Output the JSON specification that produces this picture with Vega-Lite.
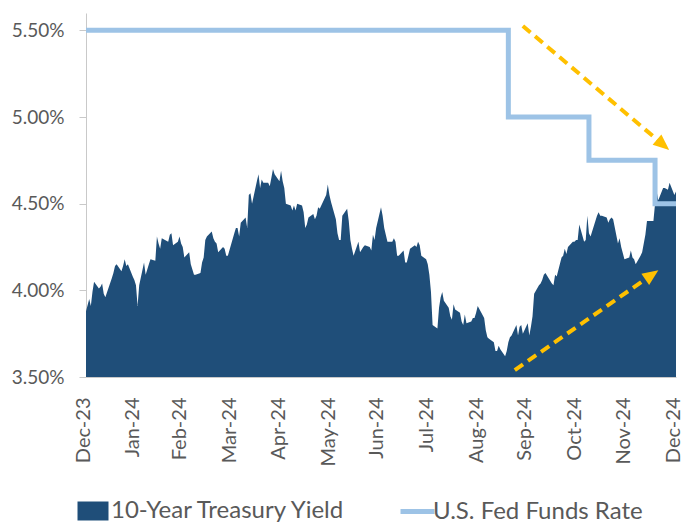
{
  "$schema": "https://vega.github.io/schema/vega-lite/v6.json",
  "width": 590,
  "height": 364,
  "autosize": "none",
  "padding": {"left": 86, "top": 13, "right": 7, "bottom": 150},
  "background": "white",
  "config": {
    "view": {"stroke": null},
    "font": "Lato",
    "axis": {"grid": false, "labelFont": "Lato", "labelColor": "#595959", "domainColor": "#C9C9C9", "tickColor": "#C9C9C9"}
  },
  "datasets": {
    "treasury": [
      {"date": "2023-12-31", "yield": 3.88},
      {"date": "2024-01-02", "yield": 3.95}, {"date": "2024-01-03", "yield": 3.91}, {"date": "2024-01-04", "yield": 3.99}, {"date": "2024-01-05", "yield": 4.05},
      {"date": "2024-01-08", "yield": 4.01}, {"date": "2024-01-09", "yield": 4.02}, {"date": "2024-01-10", "yield": 4.04}, {"date": "2024-01-11", "yield": 3.98}, {"date": "2024-01-12", "yield": 3.96},
      {"date": "2024-01-16", "yield": 4.07}, {"date": "2024-01-17", "yield": 4.10}, {"date": "2024-01-18", "yield": 4.14}, {"date": "2024-01-19", "yield": 4.15},
      {"date": "2024-01-22", "yield": 4.11}, {"date": "2024-01-23", "yield": 4.14}, {"date": "2024-01-24", "yield": 4.18}, {"date": "2024-01-25", "yield": 4.14}, {"date": "2024-01-26", "yield": 4.15},
      {"date": "2024-01-29", "yield": 4.08}, {"date": "2024-01-30", "yield": 4.06}, {"date": "2024-01-31", "yield": 4.03}, {"date": "2024-02-01", "yield": 3.91}, {"date": "2024-02-02", "yield": 4.03},
      {"date": "2024-02-05", "yield": 4.16}, {"date": "2024-02-06", "yield": 4.09}, {"date": "2024-02-07", "yield": 4.12}, {"date": "2024-02-08", "yield": 4.15}, {"date": "2024-02-09", "yield": 4.18},
      {"date": "2024-02-12", "yield": 4.17}, {"date": "2024-02-13", "yield": 4.31}, {"date": "2024-02-14", "yield": 4.27}, {"date": "2024-02-15", "yield": 4.24}, {"date": "2024-02-16", "yield": 4.30},
      {"date": "2024-02-20", "yield": 4.28}, {"date": "2024-02-21", "yield": 4.32}, {"date": "2024-02-22", "yield": 4.33}, {"date": "2024-02-23", "yield": 4.26},
      {"date": "2024-02-26", "yield": 4.28}, {"date": "2024-02-27", "yield": 4.31}, {"date": "2024-02-28", "yield": 4.27}, {"date": "2024-02-29", "yield": 4.25}, {"date": "2024-03-01", "yield": 4.19},
      {"date": "2024-03-04", "yield": 4.22}, {"date": "2024-03-05", "yield": 4.15}, {"date": "2024-03-06", "yield": 4.12}, {"date": "2024-03-07", "yield": 4.09}, {"date": "2024-03-08", "yield": 4.09},
      {"date": "2024-03-11", "yield": 4.10}, {"date": "2024-03-12", "yield": 4.16}, {"date": "2024-03-13", "yield": 4.19}, {"date": "2024-03-14", "yield": 4.29}, {"date": "2024-03-15", "yield": 4.31},
      {"date": "2024-03-18", "yield": 4.34}, {"date": "2024-03-19", "yield": 4.30}, {"date": "2024-03-20", "yield": 4.28}, {"date": "2024-03-21", "yield": 4.27}, {"date": "2024-03-22", "yield": 4.22},
      {"date": "2024-03-25", "yield": 4.25}, {"date": "2024-03-26", "yield": 4.24}, {"date": "2024-03-27", "yield": 4.20}, {"date": "2024-03-28", "yield": 4.20},
      {"date": "2024-04-01", "yield": 4.33}, {"date": "2024-04-02", "yield": 4.36}, {"date": "2024-04-03", "yield": 4.36}, {"date": "2024-04-04", "yield": 4.31}, {"date": "2024-04-05", "yield": 4.39},
      {"date": "2024-04-08", "yield": 4.42}, {"date": "2024-04-09", "yield": 4.36}, {"date": "2024-04-10", "yield": 4.55}, {"date": "2024-04-11", "yield": 4.56}, {"date": "2024-04-12", "yield": 4.50},
      {"date": "2024-04-15", "yield": 4.63}, {"date": "2024-04-16", "yield": 4.67}, {"date": "2024-04-17", "yield": 4.59}, {"date": "2024-04-18", "yield": 4.64}, {"date": "2024-04-19", "yield": 4.62},
      {"date": "2024-04-22", "yield": 4.62}, {"date": "2024-04-23", "yield": 4.60}, {"date": "2024-04-24", "yield": 4.65}, {"date": "2024-04-25", "yield": 4.70}, {"date": "2024-04-26", "yield": 4.67},
      {"date": "2024-04-29", "yield": 4.63}, {"date": "2024-04-30", "yield": 4.69}, {"date": "2024-05-01", "yield": 4.63}, {"date": "2024-05-02", "yield": 4.59}, {"date": "2024-05-03", "yield": 4.50},
      {"date": "2024-05-06", "yield": 4.49}, {"date": "2024-05-07", "yield": 4.46}, {"date": "2024-05-08", "yield": 4.49}, {"date": "2024-05-09", "yield": 4.46}, {"date": "2024-05-10", "yield": 4.50},
      {"date": "2024-05-13", "yield": 4.49}, {"date": "2024-05-14", "yield": 4.45}, {"date": "2024-05-15", "yield": 4.36}, {"date": "2024-05-16", "yield": 4.38}, {"date": "2024-05-17", "yield": 4.42},
      {"date": "2024-05-20", "yield": 4.44}, {"date": "2024-05-21", "yield": 4.41}, {"date": "2024-05-22", "yield": 4.43}, {"date": "2024-05-23", "yield": 4.48}, {"date": "2024-05-24", "yield": 4.47},
      {"date": "2024-05-28", "yield": 4.55}, {"date": "2024-05-29", "yield": 4.61}, {"date": "2024-05-30", "yield": 4.55}, {"date": "2024-05-31", "yield": 4.51},
      {"date": "2024-06-03", "yield": 4.41}, {"date": "2024-06-04", "yield": 4.33}, {"date": "2024-06-05", "yield": 4.29}, {"date": "2024-06-06", "yield": 4.29}, {"date": "2024-06-07", "yield": 4.43},
      {"date": "2024-06-10", "yield": 4.47}, {"date": "2024-06-11", "yield": 4.40}, {"date": "2024-06-12", "yield": 4.29}, {"date": "2024-06-13", "yield": 4.24}, {"date": "2024-06-14", "yield": 4.20},
      {"date": "2024-06-17", "yield": 4.28}, {"date": "2024-06-18", "yield": 4.22}, {"date": "2024-06-20", "yield": 4.25}, {"date": "2024-06-21", "yield": 4.26},
      {"date": "2024-06-24", "yield": 4.25}, {"date": "2024-06-25", "yield": 4.23}, {"date": "2024-06-26", "yield": 4.32}, {"date": "2024-06-27", "yield": 4.29}, {"date": "2024-06-28", "yield": 4.36},
      {"date": "2024-07-01", "yield": 4.48}, {"date": "2024-07-02", "yield": 4.43}, {"date": "2024-07-03", "yield": 4.36}, {"date": "2024-07-05", "yield": 4.28},
      {"date": "2024-07-08", "yield": 4.28}, {"date": "2024-07-09", "yield": 4.30}, {"date": "2024-07-10", "yield": 4.28}, {"date": "2024-07-11", "yield": 4.20}, {"date": "2024-07-12", "yield": 4.20},
      {"date": "2024-07-15", "yield": 4.23}, {"date": "2024-07-16", "yield": 4.16}, {"date": "2024-07-17", "yield": 4.16}, {"date": "2024-07-18", "yield": 4.20}, {"date": "2024-07-19", "yield": 4.24},
      {"date": "2024-07-22", "yield": 4.26}, {"date": "2024-07-23", "yield": 4.25}, {"date": "2024-07-24", "yield": 4.28}, {"date": "2024-07-25", "yield": 4.26}, {"date": "2024-07-26", "yield": 4.20},
      {"date": "2024-07-29", "yield": 4.18}, {"date": "2024-07-30", "yield": 4.15}, {"date": "2024-07-31", "yield": 4.09}, {"date": "2024-08-01", "yield": 3.99}, {"date": "2024-08-02", "yield": 3.80},
      {"date": "2024-08-05", "yield": 3.78}, {"date": "2024-08-06", "yield": 3.90}, {"date": "2024-08-07", "yield": 3.96}, {"date": "2024-08-08", "yield": 3.99}, {"date": "2024-08-09", "yield": 3.94},
      {"date": "2024-08-12", "yield": 3.90}, {"date": "2024-08-13", "yield": 3.85}, {"date": "2024-08-14", "yield": 3.83}, {"date": "2024-08-15", "yield": 3.92}, {"date": "2024-08-16", "yield": 3.89},
      {"date": "2024-08-19", "yield": 3.87}, {"date": "2024-08-20", "yield": 3.82}, {"date": "2024-08-21", "yield": 3.80}, {"date": "2024-08-22", "yield": 3.86}, {"date": "2024-08-23", "yield": 3.81},
      {"date": "2024-08-26", "yield": 3.82}, {"date": "2024-08-27", "yield": 3.84}, {"date": "2024-08-28", "yield": 3.84}, {"date": "2024-08-29", "yield": 3.87}, {"date": "2024-08-30", "yield": 3.91},
      {"date": "2024-09-03", "yield": 3.84}, {"date": "2024-09-04", "yield": 3.77}, {"date": "2024-09-05", "yield": 3.73}, {"date": "2024-09-06", "yield": 3.72},
      {"date": "2024-09-09", "yield": 3.70}, {"date": "2024-09-10", "yield": 3.65}, {"date": "2024-09-11", "yield": 3.65}, {"date": "2024-09-12", "yield": 3.68}, {"date": "2024-09-13", "yield": 3.66},
      {"date": "2024-09-16", "yield": 3.62}, {"date": "2024-09-17", "yield": 3.65}, {"date": "2024-09-18", "yield": 3.70}, {"date": "2024-09-19", "yield": 3.73}, {"date": "2024-09-20", "yield": 3.74},
      {"date": "2024-09-23", "yield": 3.80}, {"date": "2024-09-24", "yield": 3.74}, {"date": "2024-09-25", "yield": 3.79}, {"date": "2024-09-26", "yield": 3.80}, {"date": "2024-09-27", "yield": 3.75},
      {"date": "2024-09-30", "yield": 3.81}, {"date": "2024-10-01", "yield": 3.74}, {"date": "2024-10-02", "yield": 3.79}, {"date": "2024-10-03", "yield": 3.85}, {"date": "2024-10-04", "yield": 3.98},
      {"date": "2024-10-07", "yield": 4.03}, {"date": "2024-10-08", "yield": 4.04}, {"date": "2024-10-09", "yield": 4.06}, {"date": "2024-10-10", "yield": 4.09}, {"date": "2024-10-11", "yield": 4.10},
      {"date": "2024-10-15", "yield": 4.04}, {"date": "2024-10-16", "yield": 4.03}, {"date": "2024-10-17", "yield": 4.09}, {"date": "2024-10-18", "yield": 4.08},
      {"date": "2024-10-21", "yield": 4.19}, {"date": "2024-10-22", "yield": 4.20}, {"date": "2024-10-23", "yield": 4.24}, {"date": "2024-10-24", "yield": 4.21}, {"date": "2024-10-25", "yield": 4.25},
      {"date": "2024-10-28", "yield": 4.28}, {"date": "2024-10-29", "yield": 4.28}, {"date": "2024-10-30", "yield": 4.29}, {"date": "2024-10-31", "yield": 4.29}, {"date": "2024-11-01", "yield": 4.38},
      {"date": "2024-11-04", "yield": 4.28}, {"date": "2024-11-05", "yield": 4.29}, {"date": "2024-11-06", "yield": 4.43}, {"date": "2024-11-07", "yield": 4.33}, {"date": "2024-11-08", "yield": 4.31},
      {"date": "2024-11-12", "yield": 4.43}, {"date": "2024-11-13", "yield": 4.45}, {"date": "2024-11-14", "yield": 4.43}, {"date": "2024-11-15", "yield": 4.43},
      {"date": "2024-11-18", "yield": 4.42}, {"date": "2024-11-19", "yield": 4.39}, {"date": "2024-11-20", "yield": 4.41}, {"date": "2024-11-21", "yield": 4.42}, {"date": "2024-11-22", "yield": 4.41},
      {"date": "2024-11-25", "yield": 4.27}, {"date": "2024-11-26", "yield": 4.30}, {"date": "2024-11-27", "yield": 4.25}, {"date": "2024-11-29", "yield": 4.18},
      {"date": "2024-12-02", "yield": 4.19}, {"date": "2024-12-03", "yield": 4.23}, {"date": "2024-12-04", "yield": 4.19}, {"date": "2024-12-05", "yield": 4.18}, {"date": "2024-12-06", "yield": 4.15},
      {"date": "2024-12-09", "yield": 4.20}, {"date": "2024-12-10", "yield": 4.22}, {"date": "2024-12-11", "yield": 4.27}, {"date": "2024-12-12", "yield": 4.32}, {"date": "2024-12-13", "yield": 4.40},
      {"date": "2024-12-16", "yield": 4.40}, {"date": "2024-12-17", "yield": 4.40}, {"date": "2024-12-18", "yield": 4.50}, {"date": "2024-12-19", "yield": 4.57}, {"date": "2024-12-20", "yield": 4.52},
      {"date": "2024-12-23", "yield": 4.59}, {"date": "2024-12-24", "yield": 4.59}, {"date": "2024-12-26", "yield": 4.58}, {"date": "2024-12-27", "yield": 4.62},
      {"date": "2024-12-30", "yield": 4.55}, {"date": "2024-12-31", "yield": 4.57}
    ],
    "fed": [
      {"date": "2023-12-31", "rate": 5.50},
      {"date": "2024-09-18", "rate": 5.00},
      {"date": "2024-11-07", "rate": 4.75},
      {"date": "2024-12-18", "rate": 4.50},
      {"date": "2024-12-31", "rate": 4.50}
    ],
    "arrows": [
      {"arrow": "down", "date": "2024-09-27", "value": 5.525},
      {"arrow": "down", "date": "2024-12-23", "value": 4.84},
      {"arrow": "up", "date": "2024-09-22", "value": 3.54},
      {"arrow": "up", "date": "2024-12-16", "value": 4.09}
    ],
    "heads": [
      {"arrow": "down", "date": "2024-12-23", "value": 4.84},
      {"arrow": "up", "date": "2024-12-16", "value": 4.09}
    ]
  },
  "encoding": {
    "x": {
      "field": "date", "type": "temporal",
      "scale": {"type": "utc", "domain": [{"year": 2023, "month": 12, "date": 31, "utc": true}, {"year": 2024, "month": 12, "date": 31, "utc": true}]},
      "axis": {
        "title": null, "orient": "bottom",
        "values": [
          {"year": 2023, "month": 12, "date": 31, "utc": true},
          {"year": 2024, "month": 1, "date": 31, "utc": true},
          {"year": 2024, "month": 2, "date": 29, "utc": true},
          {"year": 2024, "month": 3, "date": 31, "utc": true},
          {"year": 2024, "month": 4, "date": 30, "utc": true},
          {"year": 2024, "month": 5, "date": 31, "utc": true},
          {"year": 2024, "month": 6, "date": 30, "utc": true},
          {"year": 2024, "month": 7, "date": 31, "utc": true},
          {"year": 2024, "month": 8, "date": 31, "utc": true},
          {"year": 2024, "month": 9, "date": 30, "utc": true},
          {"year": 2024, "month": 10, "date": 31, "utc": true},
          {"year": 2024, "month": 11, "date": 30, "utc": true},
          {"year": 2024, "month": 12, "date": 31, "utc": true}
        ],
        "labelExpr": "utcFormat(datum.value, '%b-%y')",
        "labelAngle": -90, "labelFontSize": 20, "labelPadding": 20, "labelOffset": -3,
        "ticks": false, "tickSize": 0, "labelOverlap": false, "labelBound": false, "labelFlush": false
      }
    }
  },
  "layer": [
    {
      "data": {"name": "treasury"},
      "mark": {"type": "area", "opacity": 1},
      "encoding": {
        "y": {
          "field": "yield", "type": "quantitative",
          "scale": {"domain": [3.5, 5.6], "nice": false, "zero": false},
          "axis": {
            "title": null, "values": [3.5, 4.0, 4.5, 5.0, 5.5],
            "labelExpr": "format(datum.value, '.2f') + '%'",
            "labelFontSize": 19, "tickSize": 7, "labelPadding": 15
          }
        },
        "y2": {"datum": 3.5},
        "fill": {
          "datum": "10-Year Treasury Yield",
          "scale": {"domain": ["10-Year Treasury Yield"], "range": ["#1F4E79"]},
          "legend": {
            "orient": "none", "legendX": -5, "legendY": 486, "direction": "horizontal", "title": null,
            "symbolType": "M-1.55,-0.95H1.55V0.95H-1.55Z", "symbolSize": 400, "symbolStrokeWidth": 0,
            "labelFont": "Lato", "labelFontSize": 24, "labelColor": "#595959", "labelOffset": 6, "labelLimit": 500
          }
        }
      }
    },
    {
      "data": {"name": "fed"},
      "mark": {"type": "line", "interpolate": "step-after", "strokeWidth": 5},
      "encoding": {
        "y": {"field": "rate", "type": "quantitative"},
        "stroke": {
          "datum": "U.S. Fed Funds Rate",
          "scale": {"domain": ["U.S. Fed Funds Rate"], "range": ["#9DC3E6"]},
          "legend": {
            "orient": "none", "legendX": 319, "legendY": 486, "direction": "horizontal", "title": null,
            "symbolType": "M-1.7,0H1.7", "symbolSize": 400, "symbolStrokeWidth": 5,
            "labelFont": "Lato", "labelFontSize": 24, "labelColor": "#595959", "labelOffset": 3, "labelLimit": 500
          }
        }
      }
    },
    {
      "data": {"name": "arrows"},
      "mark": {"type": "line", "color": "#FFC000", "strokeWidth": 4, "strokeDash": [10, 6]},
      "encoding": {
        "y": {"field": "value", "type": "quantitative"},
        "detail": {"field": "arrow"}
      }
    },
    {
      "data": {"name": "heads"},
      "transform": [{"filter": "datum.arrow === 'down'"}],
      "mark": {"type": "point", "shape": "M1,0L-1,-0.85L-1,0.85Z", "size": 256, "filled": true, "color": "#FFC000", "opacity": 1, "angle": 40},
      "encoding": {"y": {"field": "value", "type": "quantitative"}}
    },
    {
      "data": {"name": "heads"},
      "transform": [{"filter": "datum.arrow === 'up'"}],
      "mark": {"type": "point", "shape": "M1,0L-1,-0.85L-1,0.85Z", "size": 256, "filled": true, "color": "#FFC000", "opacity": 1, "angle": 325},
      "encoding": {"y": {"field": "value", "type": "quantitative"}}
    }
  ]
}
